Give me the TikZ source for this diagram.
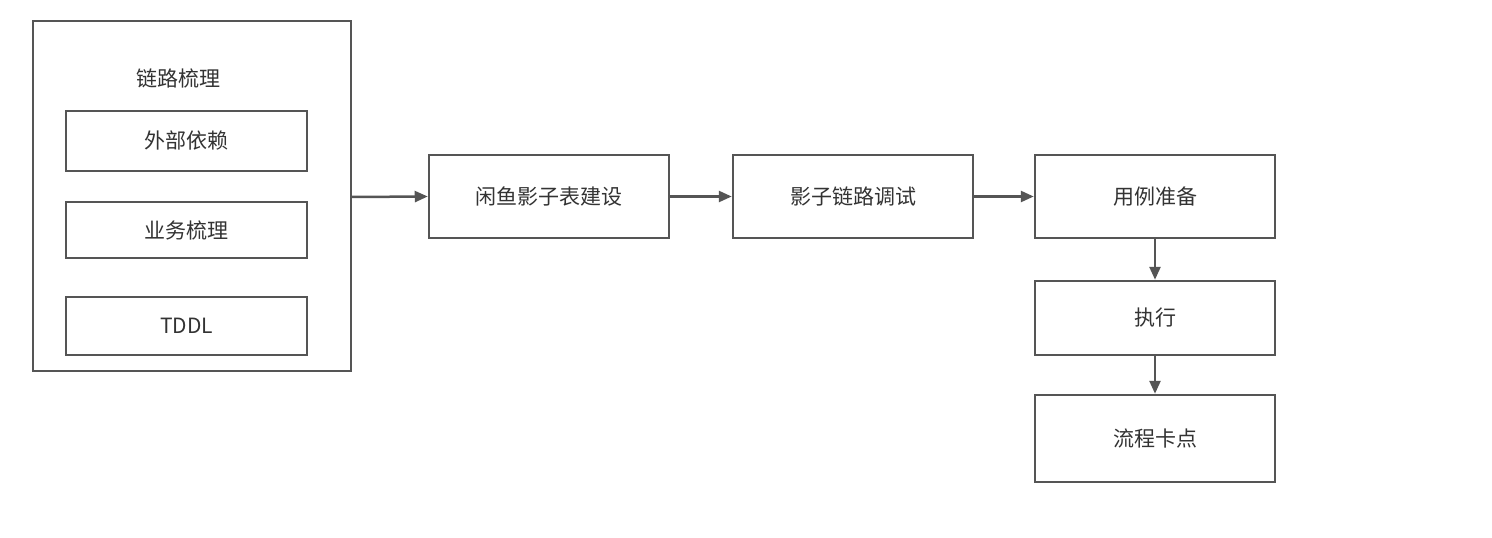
\documentclass[tikz,border=0pt]{standalone}
\usepackage{fontspec}
\setmainfont{Noto Sans CJK SC}
\usetikzlibrary{arrows.meta}
\definecolor{ln}{HTML}{555555}
\definecolor{tx}{HTML}{333333}
\begin{document}
\begin{tikzpicture}[x=1pt,y=-1pt,
  bx/.style={draw=ln,line width=2.5pt,text=tx,font=\fontsize{21}{24}\selectfont},
  ar/.style={draw=ln,line width=2.5pt,-{Triangle[length=13pt,width=11pt]}}]
\useasboundingbox (0,0) rectangle (1492,538);
\fill[white] (0,0) rectangle (1492,538);
\draw[ln,line width=2.5pt] (33,21) rectangle (351,371);
\node[text=tx,font=\fontsize{21}{24}\selectfont] (title) at (178,78) {链路梳理};
\node[bx,minimum width=241pt,minimum height=60pt] (a) at (186.5,141) {外部依赖};
\node[bx,minimum width=241pt,minimum height=56pt] (b) at (186.5,230) {业务梳理};
\node[bx,minimum width=241pt,minimum height=58pt] (c) at (186.5,326) {TDDL};
\coordinate (o) at (351,197);
\node[bx,minimum width=240pt,minimum height=83pt] (d) at (549,196.5) {闲鱼影子表建设};
\node[bx,minimum width=240pt,minimum height=83pt] (e) at (853,196.5) {影子链路调试};
\node[bx,minimum width=240pt,minimum height=83pt] (f) at (1155,196.5) {用例准备};
\node[bx,minimum width=240pt,minimum height=74pt] (g) at (1155,318) {执行};
\node[bx,minimum width=240pt,minimum height=87pt] (h) at (1155,438.5) {流程卡点};
\draw[ar] (o) -- (d.west);
\draw[ar] (d) -- (e);
\draw[ar] (e) -- (f);
\draw[ar] (f) -- (g);
\draw[ar] (g) -- (h);
\end{tikzpicture}
\end{document}
